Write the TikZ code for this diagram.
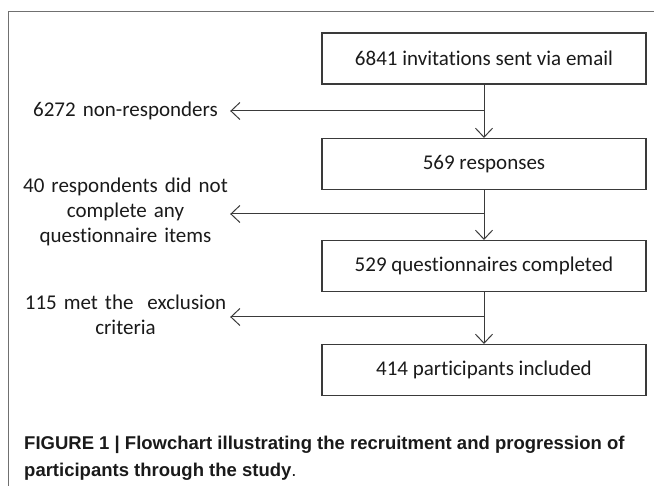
\documentclass[tikz,border=0pt]{standalone}
\usepackage{fontspec}
\setmainfont[Ligatures={NoCommon,NoRare}]{Carlito}
\newfontfamily\capfont{Liberation Sans}
\usetikzlibrary{arrows.meta}
\definecolor{linec}{HTML}{3A3A3A}
\definecolor{framec}{HTML}{707070}
\definecolor{txtc}{HTML}{1A1A1A}
\tikzset{
  stepbox/.style={draw=linec, line width=1.1pt, minimum width=324pt, minimum height=51pt,
    inner sep=0pt, font=\fontsize{21}{24}\selectfont, text=txtc},
  sidelabel/.style={text width=209pt, align=center, inner sep=0pt,
    font=\fontsize{21}{25}\selectfont, text=txtc},
  arr/.style={draw=linec, line width=1pt, -{Straight Barb[length=9pt,width=17pt,line width=1pt]}},
  capstyle/.style={anchor=base west, inner sep=0pt, text=txtc,
    font=\capfont\bfseries\fontsize{18.5}{22}\selectfont}
}
\begin{document}
\begin{tikzpicture}[x=1pt,y=-1pt]
\useasboundingbox (0,0) rectangle (654,486);
% frame
\draw[framec, line width=1pt] (8,490) -- (8,12) -- (660,12);
% boxes
\node[stepbox] (b1) at (484,58.5) {6841 invitations sent via email};
\node[stepbox] (b2) at (484,164) {569 responses};
\node[stepbox] (b3) at (484,266) {529 questionnaires completed};
\node[stepbox] (b4) at (484,370) {414 participants included};
% junctions
\coordinate (j1) at (484,111);
\coordinate (j2) at (484,214);
\coordinate (j3) at (484,317);
% side labels
\node[sidelabel] (l1) at (125.5,111) {6272 non-responders};
\node[sidelabel] (l2) at (125.5,212) {40 respondents did not\\complete any\\questionnaire items};
\node[sidelabel] (l3) at (125.5,315) {115 met the\ \ exclusion\\criteria};
% connectors
\draw[arr] (b1.south) -- (b2.north);
\draw[arr] (b2.south) -- (b3.north);
\draw[arr] (b3.south) -- (b4.north);
\draw[arr] (j1) -- (j1 -| l1.east);
\draw[arr] (j2) -- (j2 -| l2.east);
\draw[arr] (j3) -- (j3 -| l3.east);
% caption
\node[capstyle] (c1) at (24,450) {FIGURE 1 | Flowchart illustrating the recruitment and progression of};
\node[capstyle] (c2) at (24,477) {participants through the study{\mdseries .}};
\end{tikzpicture}
\end{document}
